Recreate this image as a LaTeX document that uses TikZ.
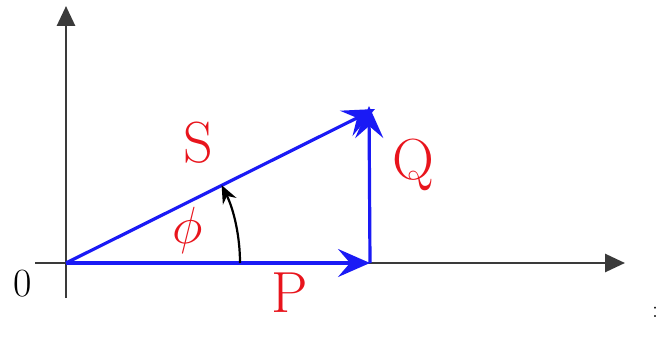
\documentclass[tikz,border=0pt]{standalone}
\usetikzlibrary{arrows.meta}
\definecolor{phBlue}{HTML}{1A1AF5}
\definecolor{phRed} {HTML}{E8141C}
\definecolor{phAxis}{HTML}{3A3A3A}

\begin{document}
\begin{tikzpicture}[x=1pt,y=-1pt,
      axis/.style={line width=2.8pt,draw=phAxis,-{Triangle[length=20pt,width=18pt]}},
      vec/.style={line width=3.2pt,draw=phBlue,
                  -{Stealth[length=32pt,width=28pt,inset=12pt]}},
      lbl/.style={text=phRed,font=\fontsize{58}{62}\selectfont,inner sep=0pt}]

    \useasboundingbox (0,0) rectangle (658,337);

    % axes
    \coordinate (O)    at (66,263);
    \coordinate (xlow) at (35,263);
    \coordinate (xend) at (625,263);
    \coordinate (ylow) at (66,298);
    \coordinate (yend) at (66,6);
    \draw[axis] (xlow) -- (xend);
    \draw[axis] (ylow) -- (yend);

    % power triangle
    \coordinate (Pend) at (370,263);
    \coordinate (Qend) at (369,106);
    \coordinate (Send) at (375,109);
    \draw[vec] (O) -- (Pend);
    \draw[vec] (Pend) -- (Qend);
    \draw[vec] (O) -- (Send);

    % angle
    \coordinate (a1) at (240,263);
    \draw[line width=2.2pt,-{Stealth[length=18pt,width=15pt]}]
      (a1) arc[start angle=0,end angle=-26.6,radius=174];

    % labels
    \node[lbl] (S) at (198,143) {S};
    \node[lbl] (Q) at (413,165) {Q};
    \node[lbl] (P) at (290,293) {P};
    \node[lbl,font=\Huge] (phi) at (188,230) {\scalebox{2.1}{$\phi$}};
    \node[font=\fontsize{40}{44}\selectfont,inner sep=0pt] (zero) at (23,284) {0};
    \node[font=\fontsize{24}{28}\selectfont,inner sep=0pt] (colon) at (655,312) {:};
  \end{tikzpicture}
\end{document}
